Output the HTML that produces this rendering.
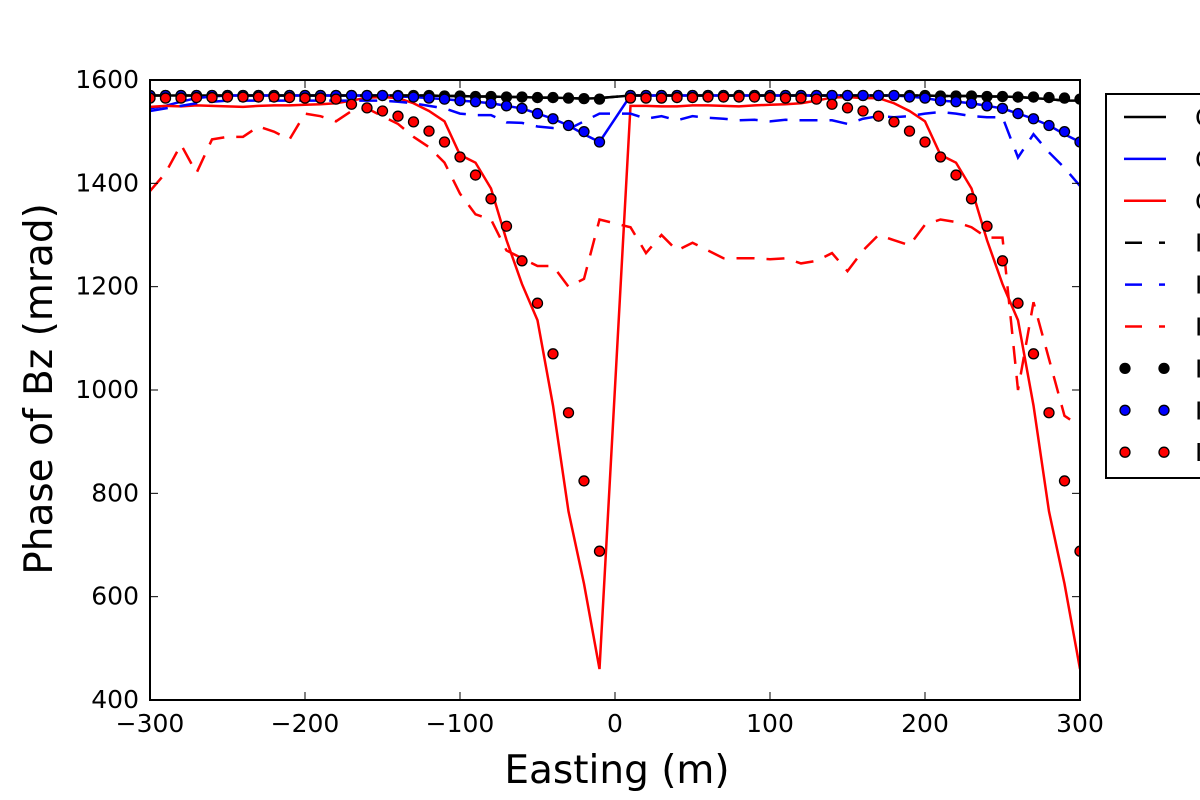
<!DOCTYPE html>
<html><head><meta charset="utf-8"><style>
html,body{margin:0;padding:0;background:#fff;width:1200px;height:800px;overflow:hidden}
svg text{font-family:"DejaVu Sans","Liberation Sans",sans-serif}
</style></head><body>
<svg id="chart" width="1200" height="800" xmlns="http://www.w3.org/2000/svg"></svg>
<script>
const xs = [-300,-290,-280,-270,-260,-250,-240,-230,-220,-210,-200,-190,-180,-170,-160,-150,-140,-130,-120,-110,-100,-90,-80,-70,-60,-50,-40,-30,-20,-10,10,20,30,40,50,60,70,80,90,100,110,120,130,140,150,160,170,180,190,200,210,220,230,240,250,260,270,280,290,300];
const blackSolid = [1570,1570,1570,1570,1570,1570,1570,1570,1570,1570,1570,1570,1570,1570,1570,1570,1570,1570,1570,1569,1569,1568,1568,1567,1567,1566,1566,1565,1564,1565,1570,1570,1570,1570,1570,1570,1570,1570,1570,1570,1570,1570,1570,1570,1570,1570,1570,1570,1570,1570,1569,1569,1569,1568,1568,1567,1565,1563,1560,1560];
const blueSolid = [1545,1550,1558,1565,1568,1570,1570,1570,1570,1570,1570,1570,1570,1570,1570,1570,1568,1567,1565,1563,1560,1558,1555,1550,1545,1535,1525,1512,1495,1480,1570,1570,1570,1570,1570,1570,1570,1570,1570,1570,1570,1570,1570,1570,1570,1570,1570,1570,1568,1565,1560,1558,1555,1550,1545,1535,1525,1512,1495,1480];
const redSolid = [1548,1550,1549,1551,1550,1549,1548,1550,1551,1551,1552,1553,1555,1560,1566,1567,1565,1555,1540,1520,1455,1440,1390,1290,1205,1135,970,765,625,460,1550,1550,1549,1549,1551,1551,1550,1549,1551,1552,1553,1555,1560,1566,1567,1565,1565,1555,1540,1520,1455,1440,1390,1290,1205,1135,970,765,625,460];
const blackDashed = [1570,1570,1570,1570,1570,1570,1570,1570,1570,1570,1570,1570,1570,1570,1570,1570,1570,1570,1570,1569,1569,1568,1568,1567,1567,1566,1566,1565,1564,1565,1570,1570,1570,1570,1570,1570,1570,1570,1570,1570,1570,1570,1570,1570,1570,1570,1570,1570,1570,1570,1569,1569,1569,1568,1568,1567,1565,1563,1560,1560];
const blueDashed = [1540,1545,1550,1555,1558,1560,1560,1560,1560,1560,1560,1560,1560,1560,1560,1560,1558,1555,1550,1545,1535,1532,1532,1518,1517,1510,1507,1505,1520,1535,1535,1525,1530,1522,1530,1527,1525,1522,1523,1520,1523,1522,1522,1522,1515,1525,1530,1528,1530,1535,1538,1535,1530,1528,1528,1450,1495,1460,1430,1395];
const redDashed = [1385,1420,1475,1420,1485,1490,1490,1510,1500,1485,1535,1530,1520,1540,1545,1530,1515,1490,1470,1440,1380,1340,1330,1270,1255,1240,1240,1200,1215,1330,1315,1265,1300,1270,1285,1270,1255,1255,1255,1253,1255,1245,1250,1265,1230,1270,1300,1290,1280,1320,1330,1325,1315,1295,1295,1000,1170,1060,950,930];
const blackDots = [1570,1570,1570,1570,1570,1570,1570,1570,1570,1570,1570,1570,1570,1570,1570,1570,1570,1570,1570,1569,1569,1568,1568,1567,1567,1566,1566,1565,1564,1563,1570,1570,1570,1570,1570,1570,1570,1570,1570,1570,1570,1570,1570,1570,1570,1570,1570,1570,1570,1570,1569,1569,1569,1568,1568,1567,1567,1566,1565,1563];
const blueDots = [1570,1570,1570,1570,1570,1570,1570,1570,1570,1570,1570,1570,1570,1570,1570,1570,1569,1567,1565,1563,1560,1558,1555,1550,1545,1535,1525,1512,1500,1480,1570,1570,1570,1570,1570,1570,1570,1570,1570,1570,1570,1570,1570,1570,1570,1570,1570,1570,1567,1565,1560,1558,1555,1550,1545,1535,1525,1512,1500,1480];
const redDots = [1565,1565,1565,1566,1566,1567,1567,1567,1567,1566,1565,1565,1563,1553,1546,1540,1530,1519,1501,1480,1451,1416,1370,1317,1250,1168,1070,956,824,688,1565,1565,1565,1566,1566,1567,1567,1567,1567,1566,1565,1565,1563,1553,1546,1540,1530,1519,1501,1480,1451,1416,1370,1317,1250,1168,1070,956,824,688];
const xTicks = [-300,-200,-100,0,100,200,300];
const xTickLabels = ["\u2212300","\u2212200","\u2212100","0","100","200","300"];
const yTicks = [400,600,800,1000,1200,1400,1600];
const legendLabels = ["Computed Bz 1","Computed Bz 2","Computed Bz 3","Inverted Bz 1","Inverted Bz 2","Inverted Bz 3","Initial Bz 1","Initial Bz 2","Initial Bz 3"];

const svg = document.getElementById('chart');
const NS = 'http://www.w3.org/2000/svg';
const L=150,R=1080,T=80,B=700;
const xS = v => L + (v+300)/600*(R-L);
const yS = v => B - (v-400)/1200*(B-T);
function mk(tag, attrs, parent){const e=document.createElementNS(NS,tag);for(const k in attrs)e.setAttribute(k,attrs[k]);(parent||svg).appendChild(e);return e;}

const clip = mk('clipPath',{id:'pc'}); mk('rect',{x:L,y:T,width:R-L,height:B-T},clip);
const plot = mk('g',{'clip-path':'url(#pc)'});



function line(vals,color,dash,name){
  const p = mk('polyline',{points:xs.map((x,i)=>xS(x)+','+yS(vals[i])).join(' '),fill:'none',stroke:color,'stroke-width':2.5,'stroke-dasharray':dash||''},plot);
  
  
}
function dots(vals,color,name){
  const g = mk('g',{},plot);
  
  
  xs.forEach((x,i)=>{mk('circle',{cx:xS(x),cy:yS(vals[i]),r:5,fill:color,stroke:'#000','stroke-width':1.3},g);});
}
line(blackSolid,'#000','', 'black-solid-line');
line(blueSolid,'#00f','', 'blue-solid-line');
line(redSolid,'#f00','', 'red-solid-line');
line(blackDashed,'#000','18,12','black-dashed-line');
line(blueDashed,'#00f','18,12','blue-dashed-line');
line(redDashed,'#f00','18,12','red-dashed-line');
dots(blackDots,'#000','black-dots');
dots(blueDots,'#00f','blue-dots');
dots(redDots,'#f00','red-dots');

const frame = mk('rect',{x:L,y:T,width:R-L,height:B-T,fill:'none',stroke:'#000','stroke-width':2});



xTicks.forEach((t,i)=>{
  const x=xS(t);
  mk('line',{x1:x,y1:B,x2:x,y2:B-8,stroke:'#000','stroke-width':1});
  mk('line',{x1:x,y1:T,x2:x,y2:T+8,stroke:'#000','stroke-width':1});
  const tx=mk('text',{x:x,y:B+32,'font-size':25,'text-anchor':'middle'});
  tx.textContent=xTickLabels[i];
  
  
});
yTicks.forEach(t=>{
  const y=yS(t);
  mk('line',{x1:L,y1:y,x2:L+8,y2:y,stroke:'#000','stroke-width':1});
  mk('line',{x1:R,y1:y,x2:R-8,y2:y,stroke:'#000','stroke-width':1});
  const tx=mk('text',{x:L-11,y:y+8,'font-size':25,'text-anchor':'end'});
  tx.textContent=t;
  
  
});
const xt=mk('text',{x:(L+R)/2+2,y:783,'font-size':39,'text-anchor':'middle'});
xt.textContent='Easting (m)';


const yt=mk('text',{x:0,y:0,'font-size':39,'text-anchor':'middle',transform:'translate(52,389) rotate(-90)'});
yt.textContent='Phase of Bz (mrad)';



const lg = mk('g',{});


mk('rect',{x:1106,y:94,width:120,height:384,fill:'#fff',stroke:'#000','stroke-width':2},lg);
const lc=['#000','#00f','#f00'];
legendLabels.forEach((lab,i)=>{
  const y=117+i*41.9, c=lc[i%3], kind=Math.floor(i/3);
  const g=mk('g',{},lg);
  
  
  if(kind===0) mk('line',{x1:1124,y1:y,x2:1166,y2:y,stroke:c,'stroke-width':2.5},g);
  else if(kind===1){mk('line',{x1:1125,y1:y,x2:1142,y2:y,stroke:c,'stroke-width':2.5},g);mk('line',{x1:1159,y1:y,x2:1165,y2:y,stroke:c,'stroke-width':2.5},g);}
  else {mk('circle',{cx:1125,cy:y,r:5,fill:c,stroke:'#000','stroke-width':1.3},g);mk('circle',{cx:1164,cy:y,r:5,fill:c,stroke:'#000','stroke-width':1.3},g);}
  const tx=mk('text',{x:1195,y:y+9,'font-size':25},g);
  tx.textContent=lab;
});
</script>
</body></html>
